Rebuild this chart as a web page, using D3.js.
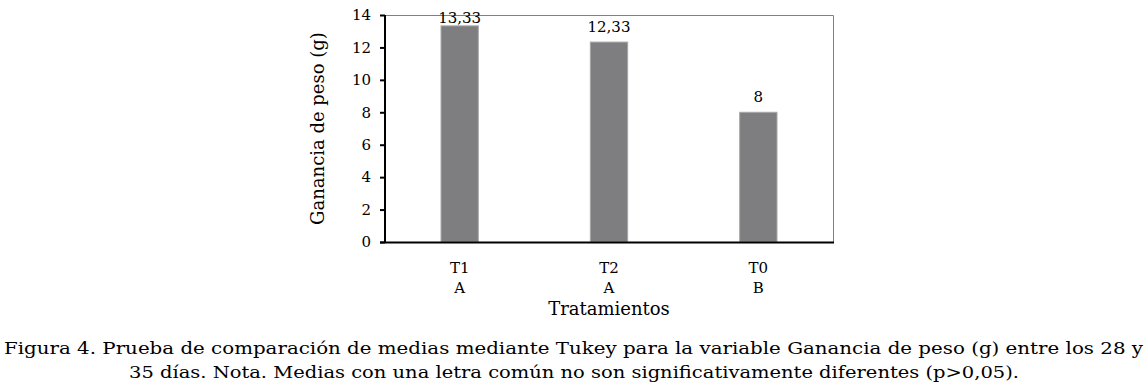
<!DOCTYPE html>
<html>
<head>
<meta charset="utf-8">
<script src="https://cdnjs.cloudflare.com/ajax/libs/d3/7.8.5/d3.min.js"></script>
<style>
  body { margin: 0; background: #fff; }
  text { font-family: "DejaVu Serif", serif; fill: #000; }
</style>
</head>
<body>
<div class="chart"></div>
<script>
var categories = ["T1", "T2", "T0"];
var letters = ["A", "A", "B"];
var values = [13.33, 12.33, 8];
var valueLabels = ["13,33", "12,33", "8"];
var yTicks = [0, 2, 4, 6, 8, 10, 12, 14];
var caption = [
  "Figura  4. Prueba de comparación de medias mediante Tukey para la variable Ganancia de peso (g) entre los 28 y",
  "35 días. Nota. Medias con una letra común no son significativamente diferentes (p>0,05)."
];

var w = 1148, h = 388;
var plotL = 385, plotR = 833, plotT = 15, plotB = 242;

var svg = d3.select(".chart").append("svg").attr("width", w).attr("height", h);

var x = d3.scaleBand().domain(categories).range([plotL, plotR]).paddingInner(0.75).paddingOuter(0.375);
var y = d3.scaleLinear().domain([0, 14]).range([plotB, plotT]);

// plot border (top + right, gray)
svg.append("path")
   .attr("d", "M" + plotL + "," + (plotT + 0.5) + "H" + (plotR + 0.5) + "V" + plotB)
   .attr("fill", "none").attr("stroke", "#808080").attr("stroke-width", 1);

// bars
svg.selectAll("rect.bar")
   .data(values)
   .enter()
   .append("rect")
   .attr("class", "bar")
   .attr("x", function(d, i) { return x(categories[i]); })
   .attr("y", function(d) { return y(d); })
   .attr("width", x.bandwidth())
   .attr("height", function(d) { return plotB - y(d); })
   .attr("fill", "#7e7d80")
   .attr("stroke", "#a8a8aa")
   .attr("stroke-width", 1);

// value labels
svg.selectAll("text.val")
   .data(values)
   .enter()
   .append("text")
   .attr("class", "val")
   .text(function(d, i) { return valueLabels[i]; })
   .attr("x", function(d, i) { return x(categories[i]) + x.bandwidth() / 2; })
   .attr("y", function(d) { return Math.max(y(d) - 10, plotT + 8); })
   .attr("text-anchor", "middle")
   .style("font-size", "15px");

// y axis
var yAxis = d3.axisLeft(y).tickValues(yTicks).tickSize(5).tickPadding(9);
var gy = svg.append("g").attr("transform", "translate(" + plotL + ",0)").call(yAxis);
gy.select(".domain").attr("stroke", "#000").attr("stroke-width", 2).attr("d", "M0," + plotT + "V" + (plotB + 1));
gy.selectAll(".tick line").attr("stroke", "#000").attr("stroke-width", 2);
gy.selectAll(".tick text").style("font-family", "DejaVu Serif").style("font-size", "15px").attr("fill", "#000");

// x axis line
svg.append("line")
   .attr("x1", plotL - 5).attr("x2", plotR + 1)
   .attr("y1", plotB + 0.5).attr("y2", plotB + 0.5)
   .attr("stroke", "#000").attr("stroke-width", 2);

// category labels
svg.selectAll("text.cat")
   .data(categories)
   .enter()
   .append("text")
   .attr("class", "cat")
   .text(function(d) { return d; })
   .attr("x", function(d) { return x(d) + x.bandwidth() / 2; })
   .attr("y", 273)
   .attr("text-anchor", "middle")
   .style("font-size", "15px");

svg.selectAll("text.letter")
   .data(letters)
   .enter()
   .append("text")
   .attr("class", "letter")
   .text(function(d) { return d; })
   .attr("x", function(d, i) { return x(categories[i]) + x.bandwidth() / 2; })
   .attr("y", 293)
   .attr("text-anchor", "middle")
   .style("font-size", "15px");

svg.append("text")
   .text("Tratamientos")
   .attr("x", (plotL + plotR) / 2)
   .attr("y", 315)
   .attr("text-anchor", "middle")
   .style("font-size", "18px");

svg.append("text")
   .text("Ganancia de peso (g)")
   .attr("transform", "translate(324," + ((plotT + plotB) / 2) + ") rotate(-90)")
   .attr("text-anchor", "middle")
   .style("font-size", "18px");

// caption
svg.append("text")
   .text(caption[0])
   .attr("x", 4).attr("y", 354)
   .attr("textLength", 1139).attr("lengthAdjust", "spacingAndGlyphs")
   .style("font-size", "17px");

svg.append("text")
   .text(caption[1])
   .attr("x", 574).attr("y", 378)
   .attr("text-anchor", "middle")
   .attr("textLength", 890).attr("lengthAdjust", "spacingAndGlyphs")
   .style("font-size", "17px");
</script>
</body>
</html>
